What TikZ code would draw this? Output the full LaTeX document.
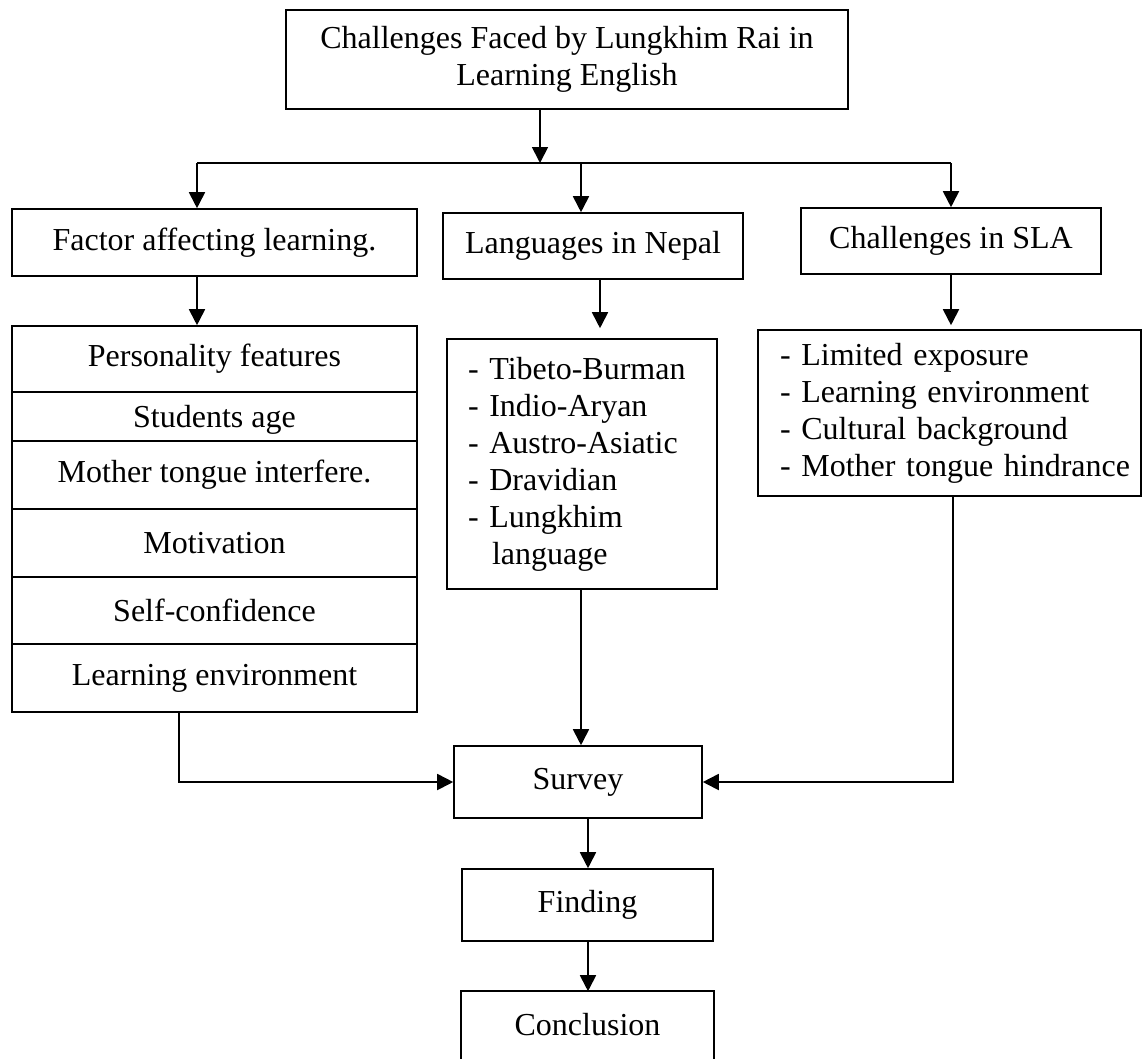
\documentclass[tikz,border=0pt]{standalone}
\usepackage{fontspec}
\setmainfont{Liberation Serif}
\usetikzlibrary{arrows.meta}
\begin{document}
\begin{tikzpicture}[x=1pt,y=-1pt,
  box/.style={draw, line width=1.6pt, inner sep=0pt, align=center, font=\fontsize{32}{37}\selectfont},
  arr/.style={line width=1.8pt, -{Triangle[width=16pt,length=16pt]}},
  ln/.style={line width=1.8pt}]
\useasboundingbox (0,0) rectangle (1143,1058);

% top
\node[box, minimum width=562, minimum height=99] (title) at (567,59.5)
  {Challenges Faced by Lungkhim Rai in\\Learning English};

% second level
\node[box, minimum width=405, minimum height=67] (factor) at (214.5,242.5) {Factor affecting learning.};
\node[box, minimum width=300, minimum height=66] (lang) at (593,246) {Languages in Nepal};
\node[box, minimum width=300, minimum height=66] (sla) at (951,241) {Challenges in SLA};

% left list rows
\node[box, minimum width=405, minimum height=66] (r1) at (214.5,359) {Personality features};
\node[box, minimum width=405, minimum height=49, text height=22pt, text depth=0pt] (r2) at (214.5,416.5) {Students age};
\node[box, minimum width=405, minimum height=68] (r3) at (214.5,475) {Mother tongue interfere.};
\node[box, minimum width=405, minimum height=68] (r4) at (214.5,543) {Motivation};
\node[box, minimum width=405, minimum height=67] (r5) at (214.5,610.5) {Self-confidence};
\node[box, minimum width=405, minimum height=68] (r6) at (214.5,678) {Learning environment};

% middle list
\node[box, minimum width=270, minimum height=250, text width=228, align=left] (midlist) at (582,464)
  {\mbox{- Tibeto-Burman}\\\mbox{- Indio-Aryan}\\\mbox{- Austro-Asiatic}\\\mbox{- Dravidian}\\\mbox{- Lungkhim}\\\hspace*{24pt}language};

% right list
\node[box, minimum width=383, minimum height=166, text width=339, align=left] (rightlist) at (949.5,413)
  {\mbox{- Limited exposure}\\\mbox{- Learning environment}\\\mbox{- Cultural background}\\\mbox{- Mother tongue hindrance}};

% bottom chain
\node[box, minimum width=248, minimum height=72] (survey) at (578,782) {Survey};
\node[box, minimum width=251, minimum height=72] (finding) at (587.5,905) {Finding};
\node[box, draw=none, minimum width=251, minimum height=66] (concl) at (587.5,1025) {Conclusion};
\draw[line width=1.6pt] (concl.south west) -- (concl.north west) -- (concl.north east) -- (concl.south east);

% helper coordinates
\coordinate (busL) at (197,163);
\coordinate (busM) at (581,163);
\coordinate (busR) at (951,163);
\coordinate (tj) at (540,163);
\coordinate (lx) at (600,0);
\coordinate (lb) at (179,0);
\coordinate (rb) at (953,0);
\coordinate (fx) at (588,0);

% connectors
\draw[ln] (busL) -- (busR);
\draw[arr] (title.south -| tj) -- (tj);
\draw[arr] (busL) -- (busL |- factor.north);
\draw[arr] (busM) -- (busM |- lang.north);
\draw[arr] (busR) -- (busR |- sla.north);

\draw[arr] (factor.south -| busL) -- (r1.north -| busL);
\draw[arr, shorten >=10pt] (lang.south -| lx) -- (midlist.north -| lx);
\draw[arr, shorten >=4pt] (sla.south -| busR) -- (rightlist.north -| busR);

\draw[arr] (r6.south -| lb) |- (survey.west);
\draw[arr] (midlist.south -| busM) -- (survey.north -| busM);
\draw[arr] (rightlist.south -| rb) |- (survey.east);

\draw[arr] (survey.south -| fx) -- (finding.north -| fx);
\draw[arr] (finding.south -| fx) -- (concl.north -| fx);
\end{tikzpicture}
\end{document}
